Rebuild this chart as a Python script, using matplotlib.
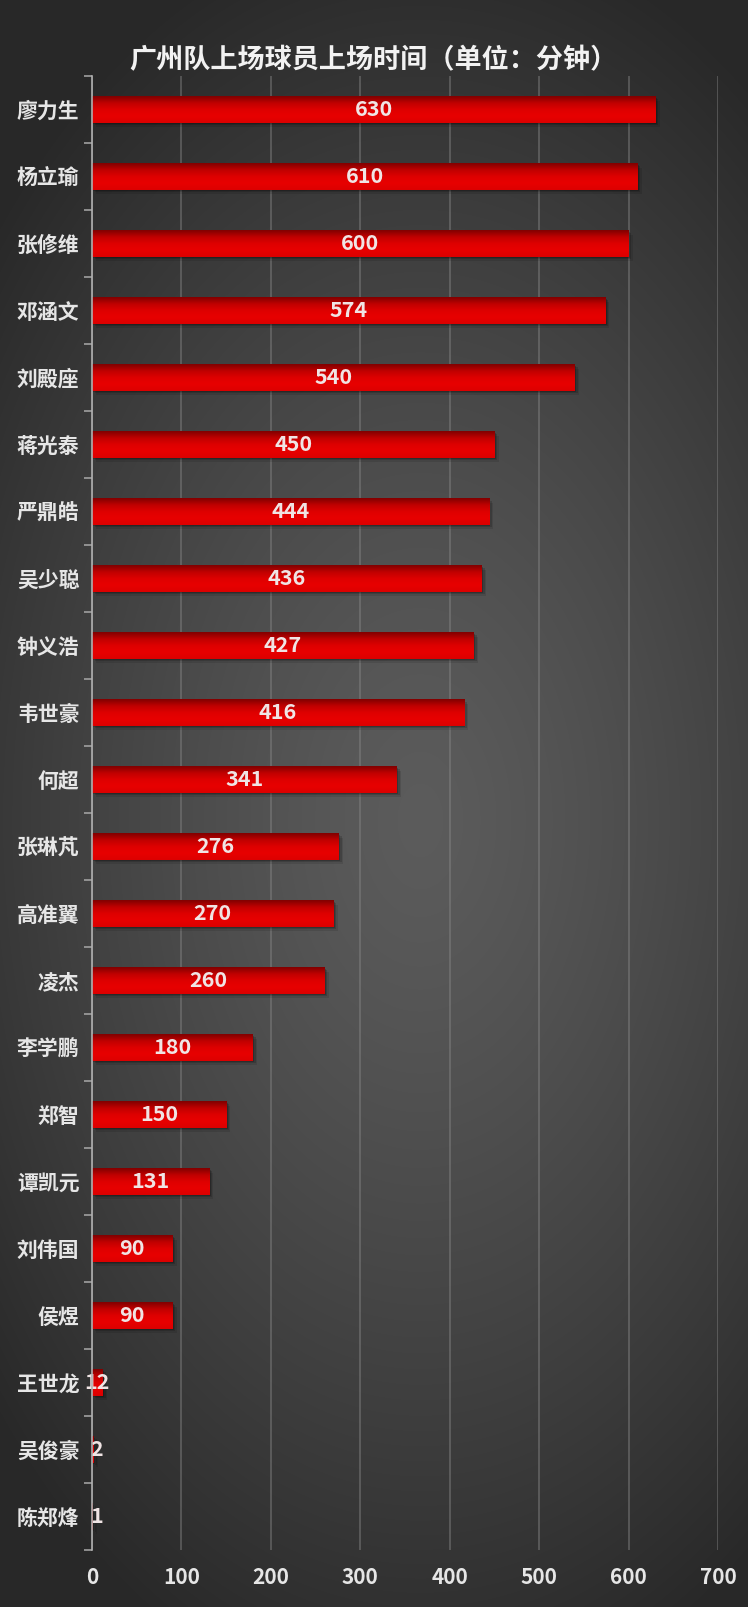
import numpy as np
import matplotlib
matplotlib.use("Agg")
import matplotlib.pyplot as plt
from matplotlib import patheffects as pe
from matplotlib.colors import LinearSegmentedColormap

plt.rcParams['font.family'] = ['Noto Sans CJK SC', 'DejaVu Sans']

players = ["廖力生", "杨立瑜", "张修维", "邓涵文", "刘殿座", "蒋光泰", "严鼎皓", "吴少聪",
           "钟义浩", "韦世豪", "何超", "张琳芃", "高准翼", "凌杰", "李学鹏", "郑智",
           "谭凯元", "刘伟国", "侯煜", "王世龙", "吴俊豪", "陈郑烽"]
minutes = [630, 610, 600, 574, 540, 450, 444, 436, 427, 416, 341, 276, 270, 260,
           180, 150, 131, 90, 90, 12, 2, 1]
xticks = [0, 100, 200, 300, 400, 500, 600, 700]
title = "广州队上场球员上场时间（单位：分钟）"

W, H = 748, 1607
fig = plt.figure(figsize=(W / 100, H / 100), dpi=100)

# radial background
bg = fig.add_axes([0, 0, 1, 1], zorder=-10)
yy, xx = np.mgrid[0:H, 0:W]
cx, cy = 420, 820
r = np.sqrt(((xx - cx) / 560.0) ** 2 + ((yy - cy) / 900.0) ** 2)
r = np.clip(r, 0, 1)
val = 0.36 - (0.36 - 0.16) * r ** 1.3
bg.imshow(np.dstack([val, val, val]), aspect='auto', extent=[0, 1, 0, 1], origin='upper')
bg.set_axis_off()

ax = fig.add_axes([92 / W, 1 - 1550 / H, (718 - 92) / W, (1550 - 76) / H])
ax.set_facecolor('none')

n = len(players)
ypos = np.arange(n)
bars = ax.barh(ypos, minutes, height=0.39, color='#d00000', zorder=3)

grad = LinearSegmentedColormap.from_list('redgrad', ['#800000', '#c00000', '#de0000', '#e80000', '#dc0000'])
gimg = np.linspace(0, 1, 64).reshape(-1, 1)
for b in bars:
    b.set_path_effects([
        pe.SimplePatchShadow(offset=(3, -3), shadow_rgbFace='black', alpha=0.10),
        pe.SimplePatchShadow(offset=(2, -2), shadow_rgbFace='black', alpha=0.15),
        pe.SimplePatchShadow(offset=(1, -1), shadow_rgbFace='black', alpha=0.2),
        pe.Normal()])
    x0, y0 = b.get_x(), b.get_y()
    w, h = b.get_width(), b.get_height()
    im = ax.imshow(gimg, cmap=grad, aspect='auto', extent=[x0, x0 + w, y0 + h, y0],
                   origin='upper', zorder=4, interpolation='bicubic')
    im.set_clip_path(b)

for yv, v in zip(ypos, minutes):
    ax.text(max(v / 2.0, 5), yv, str(v), ha='center', va='center', color='#f0e4e4',
            fontsize=15.5, fontweight='heavy', zorder=6)

ax.set_xlim(0, 700)
ax.set_ylim(n - 0.5, -0.5)
ax.set_xticks(xticks)
ax.set_xticklabels([str(t) for t in xticks])
ax.set_yticks(ypos)
ax.set_yticklabels(players)
ax.set_yticks(np.arange(-0.5, n, 1.0), minor=True)
ax.tick_params(axis='y', which='major', length=0, pad=9, labelsize=15, labelcolor='#e6e6e6')
ax.tick_params(axis='y', which='minor', length=6, width=1.2, color='#a0a0a0', direction='out')
ax.tick_params(axis='x', length=0, pad=12, labelsize=15, labelcolor='#e6e6e6')
for lab in ax.get_yticklabels() + ax.get_xticklabels():
    lab.set_fontweight('heavy')

ax.grid(axis='x', color='#8a8a8a', linewidth=1.2, alpha=0.5, zorder=0)
ax.set_axisbelow(True)
for s in ['top', 'right', 'bottom']:
    ax.spines[s].set_visible(False)
ax.spines['left'].set_color('#b0b0b0')
ax.spines['left'].set_linewidth(1.2)
ax.spines['left'].set_zorder(7)

fig.text(373 / W, 1 - 60 / H, title, ha='center', va='center', color='#f2f2f2',
         fontsize=19.5, fontweight='heavy')

fig.savefig('out.png', dpi=100)
